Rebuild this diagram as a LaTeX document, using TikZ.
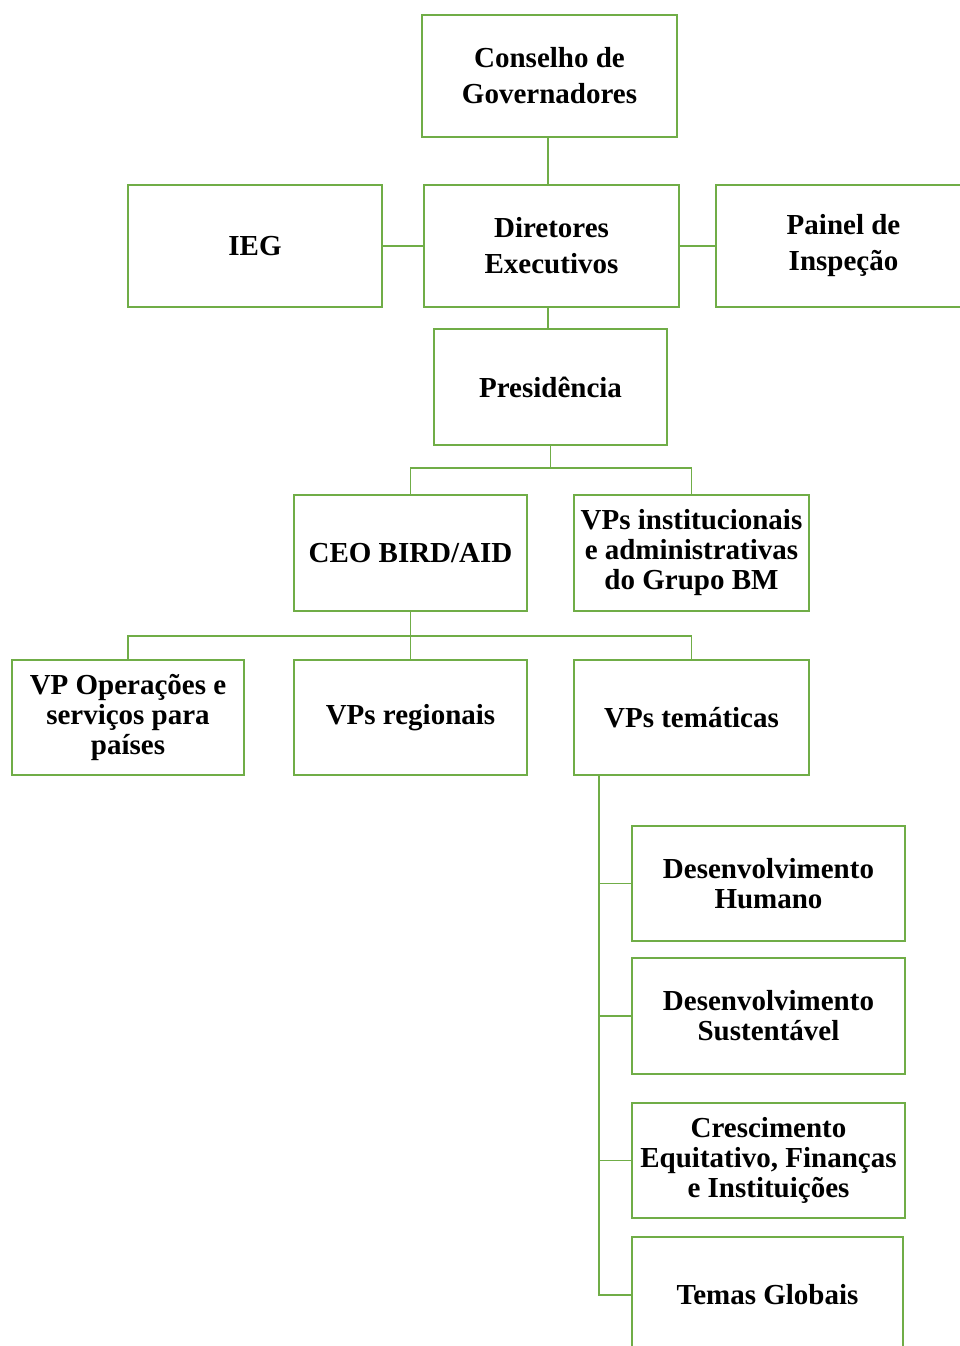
\documentclass[tikz,border=0pt]{standalone}
\usepackage{fontspec}
\setmainfont{Liberation Serif}
\definecolor{grn}{HTML}{70AD47}
\begin{document}
\begin{tikzpicture}[x=1pt,y=-1pt,
  box/.style={draw=grn, line width=1.8pt, align=center, inner sep=0pt,
    font=\fontsize{29pt}{30pt}\selectfont\bfseries},
  wide/.style={font=\fontsize{29pt}{36pt}\selectfont\bfseries},
  conn/.style={draw=grn, line width=1.8pt}]
\useasboundingbox (0,0) rectangle (960,1346);
\clip (0,0) rectangle (960,1346);
\node[box, wide, minimum width=255pt, minimum height=122pt] (cg) at (549.5,76) {Conselho de\\Governadores};
\node[box, minimum width=254pt, minimum height=122pt] (ieg) at (255,246) {IEG};
\node[box, wide, minimum width=255pt, minimum height=122pt] (de) at (551.5,246) {Diretores\\Executivos};
\node[box, wide, minimum width=255pt, minimum height=122pt] (pi) at (843.5,246) {Painel de\\Inspeção};
\node[box, minimum width=233pt, minimum height=116pt] (pr) at (550.5,387) {Presidência};
\node[box, minimum width=233pt, minimum height=116pt] (ceo) at (410.5,553) {CEO BIRD/AID};
\node[box, minimum width=235pt, minimum height=116pt] (vpi) at (691.5,553) {VPs institucionais\\e administrativas\\do Grupo BM};
\node[box, minimum width=232pt, minimum height=115pt] (vpo) at (128,717.5) {VP Operações e\\serviços para\\países};
\node[box, minimum width=233pt, minimum height=115pt] (vpr) at (410.5,717.5) {VPs regionais};
\node[box, minimum width=235pt, minimum height=115pt] (vpt) at (691.5,717.5) {VPs temáticas};
\node[box, minimum width=273pt, minimum height=115pt] (dh) at (768.5,883.5) {Desenvolvimento\\Humano};
\node[box, minimum width=273pt, minimum height=116pt] (ds) at (768.5,1016) {Desenvolvimento\\Sustentável};
\node[box, minimum width=273pt, minimum height=115pt] (ce) at (768.5,1160.5) {Crescimento\\Equitativo, Finanças\\e Instituições};
\node[box, minimum width=271pt, minimum height=116pt] (tg) at (767.5,1295) {Temas Globais};
% connectors
\coordinate (jcg) at (548,137);
\draw[conn] (jcg) -- (jcg |- de.north);
\draw[conn] (ieg.east) -- (de.west);
\draw[conn] (de.east) -- (pi.west);
\coordinate (jde) at (548,307);
\draw[conn] (jde) -- (jde |- pr.north);
\coordinate (j1) at (550.5,468);
\draw[conn] (pr.south) -- (j1);
\draw[conn] (ceo.north) |- (j1);
\draw[conn] (vpi.north) |- (j1);
\coordinate (j2) at (410.5,636);
\draw[conn] (ceo.south) -- (vpr.north);
\draw[conn] (vpo.north) |- (j2);
\draw[conn] (vpt.north) |- (j2);
\coordinate (t0) at (599,775.5);
\draw[conn] (dh.west) -| (t0);
\draw[conn] (ds.west) -| (t0);
\draw[conn] (ce.west) -| (t0);
\draw[conn] (tg.west) -| (t0);
\end{tikzpicture}
\end{document}
